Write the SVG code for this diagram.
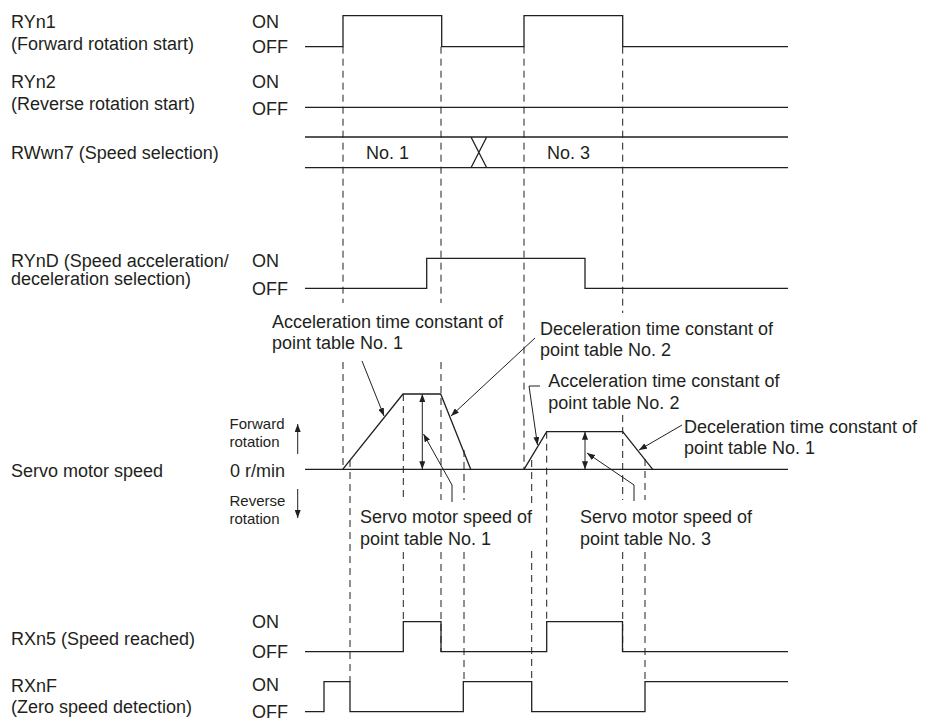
<svg xmlns="http://www.w3.org/2000/svg" width="928" height="722" viewBox="0 0 928 722">
<style>
text{font-family:"Liberation Sans",Arial,sans-serif;font-size:18px;fill:#231f20}
.sm{font-size:15px}
.sig{fill:none;stroke:#231f20;stroke-width:1.3}
.dash{fill:none;stroke:#231f20;stroke-width:1;stroke-dasharray:7 5}
.ld{fill:none;stroke:#231f20;stroke-width:1}
</style>
<defs>
<marker id="ah" viewBox="0 0 8 6" refX="8" refY="3" markerWidth="8" markerHeight="6" markerUnits="userSpaceOnUse" orient="auto-start-reverse">
<path d="M0,0 L8,3 L0,6 z" fill="#231f20"/>
</marker>
</defs>
<rect width="928" height="722" fill="#fff"/>

<g id="RYn1">
<text x="11" y="28">RYn1</text>
<text x="11" y="49.5">(Forward rotation start)</text>
<text x="252" y="28">ON</text>
<text x="252" y="53.3">OFF</text>
<path class="sig" d="M305,46.7 H343 V15.7 H441.7 V46.7 H524 V15.7 H622.7 V46.7 H788"/>
</g>

<g id="RYn2">
<text x="11" y="88.3">RYn2</text>
<text x="11" y="109.5">(Reverse rotation start)</text>
<text x="252" y="88.3">ON</text>
<text x="252" y="114.5">OFF</text>
<path class="sig" d="M305,107.3 H788"/>
</g>

<g id="RWwn7">
<text x="11" y="159.3">RWwn7 (Speed selection)</text>
<path class="sig" d="M305,137 H788 M305,167.7 H788 M471,137 L486.7,167.7 M471,167.7 L486.7,137"/>
<text x="366" y="159.3">No. 1</text>
<text x="547" y="159.3">No. 3</text>
</g>

<g id="RYnD">
<text x="11" y="266.7">RYnD (Speed acceleration/</text>
<text x="11" y="285">deceleration selection)</text>
<text x="252" y="266.7">ON</text>
<text x="252" y="295">OFF</text>
<path class="sig" d="M305,288.3 H426.7 V258.3 H585 V288.3 H788"/>
</g>

<g id="ServoSpeed">
<text x="11" y="477">Servo motor speed</text>
<text class="sm" x="229.5" y="429.3">Forward</text>
<text class="sm" x="229.5" y="447.3">rotation</text>
<text x="230" y="477">0 r/min</text>
<text class="sm" x="229.5" y="505.7">Reverse</text>
<text class="sm" x="229.5" y="524">rotation</text>
<path class="ld" d="M297.7,454 V424" marker-end="url(#ah)"/>
<path class="ld" d="M297.7,489 V518" marker-end="url(#ah)"/>
<path class="sig" d="M305,469.3 H788"/>
<path class="sig" d="M342.7,469.3 L403,394 H440.7 L470.7,469.3"/>
<path class="sig" d="M524,469.3 L546.7,431.7 H622.7 L652.7,469.3"/>
<path class="ld" d="M422.3,394 V469.3" marker-start="url(#ah)" marker-end="url(#ah)"/>
<path class="ld" d="M585,431.7 V469.3" marker-start="url(#ah)" marker-end="url(#ah)"/>
</g>

<g id="RXn5">
<text x="11" y="645">RXn5 (Speed reached)</text>
<text x="252" y="628.3">ON</text>
<text x="252" y="658.3">OFF</text>
<path class="sig" d="M305,651.7 H403.3 V621.7 H441 V651.7 H546.7 V621.7 H622.5 V651.7 H788"/>
</g>

<g id="RXnF">
<text x="11" y="691.7">RXnF</text>
<text x="11" y="713">(Zero speed detection)</text>
<text x="252" y="690.7">ON</text>
<text x="252" y="718.3">OFF</text>
<path class="sig" d="M305,711.7 H324 V681.7 H350 V711.7 H463.3 V681.7 H531.7 V711.7 H645 V681.7 H788"/>
</g>

<g id="notes">
<text x="272" y="327.5">Acceleration time constant of</text>
<text x="272" y="349">point table No. 1</text>
<text x="540" y="334.5">Deceleration time constant of</text>
<text x="540" y="356">point table No. 2</text>
<text x="548.3" y="386.7">Acceleration time constant of</text>
<text x="548.3" y="408.5">point table No. 2</text>
<text x="684" y="432.7">Deceleration time constant of</text>
<text x="684" y="453.5">point table No. 1</text>
<text x="360" y="523.3">Servo motor speed of</text>
<text x="360" y="544.5">point table No. 1</text>
<text x="580" y="523.3">Servo motor speed of</text>
<text x="580" y="544.5">point table No. 3</text>
</g>

<g id="connectors">
<path class="dash" d="M343,46.7 V303 M343,362 V469"/>
<path class="dash" d="M350,460 V682"/>
<path class="dash" d="M403.3,394 V500 M403.3,552 V622"/>
<path class="dash" d="M441,46.7 V303 M441,362 V500 M441,552 V652"/>
<path class="dash" d="M464,450 V500 M464,552 V682"/>
<path class="dash" d="M524,46.7 V469"/>
<path class="dash" d="M531.7,460 V503 M531.7,551 V682"/>
<path class="dash" d="M546.7,431.7 V622"/>
<path class="dash" d="M622.7,46.7 V313 M622.7,415 V500 M622.7,552 V652"/>
<path class="dash" d="M645,459 V500 M645,552 V682"/>
<path class="ld" d="M362,361 L384,416" marker-end="url(#ah)"/>
<path class="ld" d="M535,338 L451,416" marker-end="url(#ah)"/>
<path class="ld" d="M540,386 H529 L537.5,445" marker-end="url(#ah)"/>
<path class="ld" d="M682,425 L639,450" marker-end="url(#ah)"/>
<path class="ld" d="M452,502 V485 L423.5,434" marker-end="url(#ah)"/>
<path class="ld" d="M634,501 V485 L587,453" marker-end="url(#ah)"/>
</g>
</svg>
